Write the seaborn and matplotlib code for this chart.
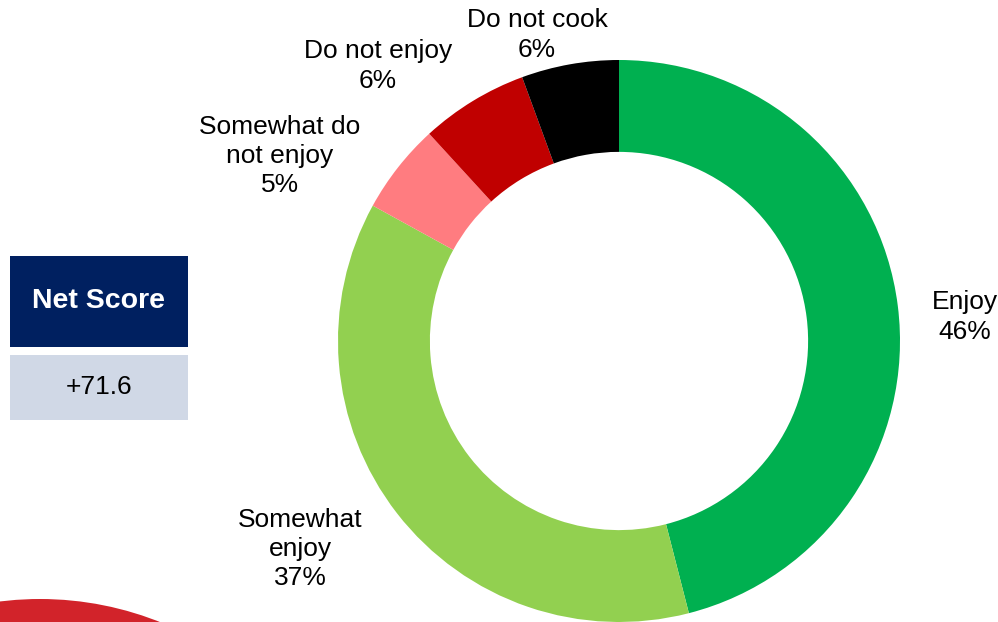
import matplotlib
matplotlib.use("Agg")
import matplotlib.pyplot as plt
from matplotlib.patches import Circle, Rectangle
import seaborn as sns

# Survey answers, clockwise from 12 o'clock
categories = ["Enjoy", "Somewhat\nenjoy", "Somewhat do\nnot enjoy", "Do not enjoy", "Do not cook"]
shares = [46.0, 37.0, 5.2, 6.2, 5.6]
net_score_title = "Net Score"
net_score_value = "+71.6"

sns.set_theme(style="white")
plt.rcParams["font.family"] = ["Liberation Sans", "DejaVu Sans"]

palette = sns.color_palette(["#00B050", "#92D050", "#FF7C80", "#C00000", "#000000"])

fig = plt.figure(figsize=(9.98, 6.22), dpi=100)
ax = fig.add_axes([0, 0, 1, 1])

wedges, _ = ax.pie(
    shares,
    colors=palette,
    startangle=90,
    counterclock=False,
    radius=1.0,
    wedgeprops=dict(width=0.327, linewidth=0),
)

# label anchors (ring radius = 1)
label_xy = [(1.231, 0.085), (-1.135, -0.740), (-1.206, 0.658),
            (-0.858, 0.979), (-0.292, 1.089)]
for name, v, (lx, ly) in zip(categories, shares, label_xy):
    ax.text(lx, ly, f"{name}\n{v:.0f}%", ha="center", va="center",
            fontsize=19, color="black", linespacing=1.28)

# Net score panel
def px(x, y):
    return ((x - 619) / 281.0, -(y - 341) / 281.0)

x0, y0 = px(10, 347)
x1, y1 = px(188, 256)
ax.add_patch(Rectangle((x0, y0), x1 - x0, y1 - y0, facecolor="#002060",
                       edgecolor="none", zorder=2))
ax.text((x0 + x1) / 2, (y0 + y1) / 2, net_score_title, ha="center", va="center",
        fontsize=20.5, fontweight="bold", color="white", zorder=3)

x0, y0 = px(10, 420)
x1, y1 = px(188, 355)
ax.add_patch(Rectangle((x0, y0), x1 - x0, y1 - y0, facecolor="#D0D8E6",
                       edgecolor="none", zorder=2))
ax.text((x0 + x1) / 2, (y0 + y1) / 2, net_score_value, ha="center", va="center",
        fontsize=19, color="black", zorder=3)

# red brand disc peeking in at lower left
cx, cy = px(40, 923)
ax.add_patch(Circle((cx, cy), 324 / 281.0, facecolor="#D2232A", edgecolor="none", zorder=1))

ax.set_xlim(-619 / 281.0, (998 - 619) / 281.0)
ax.set_ylim(-(622 - 341) / 281.0, 341 / 281.0)
ax.set_aspect("equal")
ax.axis("off")

fig.savefig("out.png", dpi=100, facecolor="white")
